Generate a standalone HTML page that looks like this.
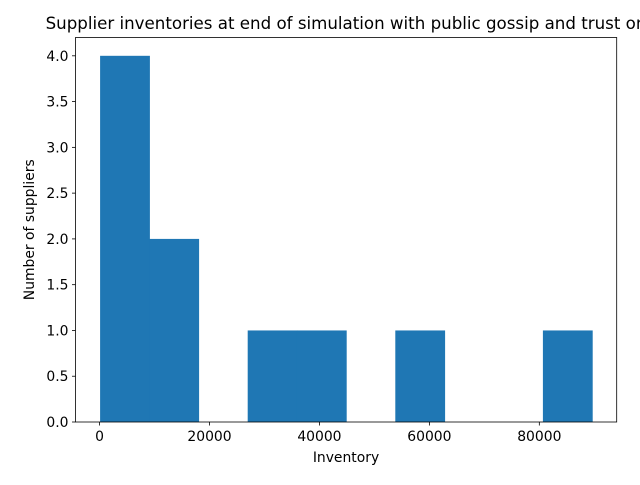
<!DOCTYPE html>
<html><head><meta charset="utf-8"><style>
body{margin:0;background:#fff;}
svg text{font-family:"DejaVu Sans","Liberation Sans",sans-serif;fill:#000;}
</style></head><body>
<svg id="chart" width="640" height="480">
<text x="346" y="29" font-size="16.67" text-anchor="middle">Supplier inventories at end of simulation with public gossip and trust on</text>
<g id="bars"></g><g id="xt"></g><g id="yt"></g>
<rect x="75.5" y="37.5" width="541.2" height="384.5" fill="none" stroke="#000" stroke-width="0.8"/>
<text x="346" y="462" font-size="13.9" text-anchor="middle">Inventory</text>
<text transform="translate(34,229.75) rotate(-90)" font-size="13.9" text-anchor="middle">Number of suppliers</text>
</svg>
<script>
const binMin = 100;
const binMax = 89600;
const counts = [4,2,0,1,1,0,1,0,0,1];
const xTicks = [0,20000,40000,60000,80000];
const yTicks = [0,0.5,1,1.5,2,2.5,3,3.5,4];
const L=75.5,R=616.7,T=37.5,B=422;
const span=binMax-binMin, x0=binMin-span*0.05, x1=binMax+span*0.05;
const ymax=Math.max(...counts)*1.05;
const X=v=>L+(v-x0)/(x1-x0)*(R-L);
const Y=v=>B-v/ymax*(B-T);
const NS="http://www.w3.org/2000/svg";
const bw=span/counts.length;
const bars=document.getElementById('bars');
counts.forEach((c,i)=>{if(!c)return;
 const r=document.createElementNS(NS,'rect');
 r.setAttribute('x',X(binMin+i*bw));r.setAttribute('width',X(binMin+(i+1)*bw)-X(binMin+i*bw)+0.6);
 r.setAttribute('y',Y(c));r.setAttribute('height',B-Y(c));r.setAttribute('fill','#1f77b4');
 
 
 bars.appendChild(r);});
const xt=document.getElementById('xt');
xTicks.forEach(v=>{const x=X(v);
 const l=document.createElementNS(NS,'line');l.setAttribute('x1',x);l.setAttribute('x2',x);l.setAttribute('y1',B);l.setAttribute('y2',B+3.5);l.setAttribute('stroke','#000');l.setAttribute('stroke-width','0.8');xt.appendChild(l);
 const t=document.createElementNS(NS,'text');t.setAttribute('x',x);t.setAttribute('y',B+19);t.setAttribute('font-size','13.9');t.setAttribute('text-anchor','middle');t.textContent=v;
 
 
 xt.appendChild(t);});
const yt=document.getElementById('yt');
yTicks.forEach(v=>{const y=Y(v);
 const l=document.createElementNS(NS,'line');l.setAttribute('x1',L-3.5);l.setAttribute('x2',L);l.setAttribute('y1',y);l.setAttribute('y2',y);l.setAttribute('stroke','#000');l.setAttribute('stroke-width','0.8');yt.appendChild(l);
 const t=document.createElementNS(NS,'text');t.setAttribute('x',L-7);t.setAttribute('y',y+5);t.setAttribute('font-size','13.9');t.setAttribute('text-anchor','end');t.textContent=v.toFixed(1);
 
 
 yt.appendChild(t);});
</script>
</body></html>
